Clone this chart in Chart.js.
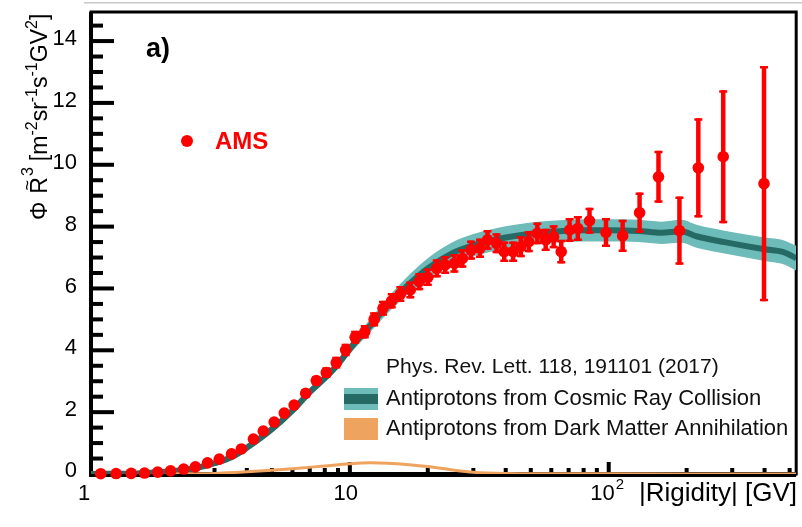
<!DOCTYPE html>
<html>
<head>
<meta charset="utf-8">
<script src="https://cdn.jsdelivr.net/npm/chart.js@4.4.1/dist/chart.umd.min.js"></script>
<style>
html,body{margin:0;padding:0;background:#fff;}
#wrap{width:802px;height:527px;position:relative;}
</style>
</head>
<body>
<div id="wrap"><canvas id="c" width="802" height="527"></canvas></div>
<script>
// ---- AMS data points ----
const rigidity = [1.09, 1.25, 1.43, 1.61, 1.81, 2.03, 2.28, 2.53, 2.82, 3.13, 3.49, 3.81, 4.24, 4.63, 5.10, 5.58, 6.09, 6.75, 7.42, 8.11, 8.86, 9.63, 10.48, 11.42, 12.41, 13.43, 14.51, 15.67, 17.12, 18.54, 20.01, 21.67, 23.34, 25.34, 27.2, 29.38, 31.82, 34.03, 36.87, 39.48, 42.73, 45.76, 49.12, 53.02, 57.09, 61.27, 65.54, 70.61, 76.0, 84.3, 97.6, 113.2, 131.6, 155.7, 187.6, 221.9, 276.9, 398];
const flux = [0.01, 0.015, 0.02, 0.03, 0.06, 0.1, 0.16, 0.23, 0.36, 0.48, 0.65, 0.81, 1.13, 1.39, 1.68, 1.97, 2.23, 2.61, 3.02, 3.28, 3.6, 4.01, 4.42, 4.6, 5.0, 5.36, 5.6, 5.82, 5.95, 6.22, 6.36, 6.65, 6.76, 6.81, 6.97, 7.24, 7.3, 7.57, 7.46, 7.19, 7.19, 7.35, 7.51, 7.78, 7.57, 7.67, 7.19, 7.89, 7.94, 8.19, 7.81, 7.7, 8.45, 9.61, 7.87, 9.9, 10.26, 9.39];
const fluxErr = [0.005, 0.008, 0.01, 0.012, 0.015, 0.02, 0.025, 0.03, 0.035, 0.04, 0.05, 0.06, 0.07, 0.08, 0.09, 0.1, 0.11, 0.13, 0.15, 0.17, 0.19, 0.2, 0.21, 0.22, 0.23, 0.24, 0.25, 0.26, 0.27, 0.28, 0.28, 0.29, 0.29, 0.3, 0.3, 0.31, 0.31, 0.32, 0.32, 0.33, 0.33, 0.34, 0.34, 0.35, 0.36, 0.37, 0.38, 0.39, 0.4, 0.42, 0.47, 0.52, 0.65, 0.84, 1.1, 1.6, 2.15, 3.8];

// ---- Cosmic ray collision model band ----
const bandR = [1, 1.5, 2, 2.5, 3, 3.5, 4, 5, 6, 7, 8, 9, 10, 12, 14, 17, 20, 25, 30, 35, 40, 50, 60, 80, 100, 130, 160, 190, 220, 280, 400, 470, 530];
const bandMid = [0.0, 0.02, 0.08, 0.18, 0.35, 0.55, 0.85, 1.45, 2.05, 2.65, 3.1, 3.55, 4.05, 4.8, 5.45, 6.15, 6.65, 7.15, 7.4, 7.55, 7.65, 7.77, 7.83, 7.88, 7.88, 7.86, 7.8, 7.85, 7.68, 7.5, 7.27, 7.18, 6.98];
const bandHigh = [0.01, 0.03, 0.095, 0.2, 0.38, 0.59, 0.9, 1.52, 2.14, 2.76, 3.23, 3.7, 4.22, 5.01, 5.7, 6.45, 6.98, 7.5, 7.76, 7.91, 8.01, 8.13, 8.19, 8.24, 8.24, 8.22, 8.16, 8.22, 8.05, 7.87, 7.65, 7.57, 7.38];
const bandLow = [0, 0.01, 0.065, 0.16, 0.32, 0.51, 0.8, 1.38, 1.96, 2.54, 2.97, 3.4, 3.88, 4.59, 5.2, 5.85, 6.32, 6.8, 7.04, 7.19, 7.29, 7.41, 7.47, 7.52, 7.52, 7.5, 7.44, 7.48, 7.31, 7.13, 6.89, 6.79, 6.58];

// ---- Dark matter annihilation contribution ----
const dmR = [2, 3, 4, 5, 6, 8, 10, 12, 14, 17, 20, 25, 30, 40, 60, 100, 200, 530];
const dmFlux = [0.0, 0.02, 0.07, 0.12, 0.17, 0.26, 0.33, 0.36, 0.35, 0.3, 0.24, 0.13, 0.06, 0.02, 0.01, 0.005, 0.002, 0.0];

// ---- Axis ticks ----
const yMajorTicks = [0, 2, 4, 6, 8, 10, 12, 14];
const yTickLabels = ['0', '2', '4', '6', '8', '10', '12', '14'];
const yMinorTicks = [0.5, 1, 1.5, 2.5, 3, 3.5, 4.5, 5, 5.5, 6.5, 7, 7.5, 8.5, 9, 9.5, 10.5, 11, 11.5, 12.5, 13, 13.5, 14.5];
const xMajorTicks = [10, 100];
const xMinorTicks = [2, 3, 4, 5, 6, 7, 8, 9, 20, 30, 40, 50, 60, 70, 80, 90, 200, 300, 400, 500];
const xTickValues = [1, 10, 100];
const xTickBase = ['1', '10', '10'];
const xTickSup = ['', '', '2'];

const X_MIN = 1, X_MAX = 530, Y_MIN = 0, Y_MAX = 14.94;

const pts = (xs, ys) => xs.map((v, i) => ({x: v, y: ys[i]}));

const RED = '#ff0000';
const TEAL_L = '#6ebcb9';
const TEAL_D = '#266a66';
const ORANGE = '#eea35e';
const FONT = '"Liberation Sans", Arial, Helvetica, sans-serif';

const framePlugin = {
  id: 'frame',
  beforeDatasetsDraw(chart) {
    const {ctx, chartArea: a, scales: {x, y}} = chart;
    ctx.save();
    // faint line above the frame
    ctx.fillStyle = '#c8c8c8';
    ctx.fillRect(84, 2, 718, 1.5);
    ctx.fillStyle = '#000';
    yMajorTicks.forEach(v => { const p = y.getPixelForValue(v); ctx.fillRect(a.left, p - 2, 23, 4); });
    yMinorTicks.forEach(v => { const p = y.getPixelForValue(v); ctx.fillRect(a.left, p - 2, 12, 4); });
    xMajorTicks.forEach(v => { const p = x.getPixelForValue(v); ctx.fillRect(p - 2, a.bottom - 12, 4, 12); });
    xMinorTicks.forEach(v => { const p = x.getPixelForValue(v); ctx.fillRect(p - 2, a.bottom - 6, 4, 6); });
    ctx.strokeStyle = '#000';
    ctx.lineWidth = 3;
    ctx.strokeRect(a.left, a.top, a.right - a.left, a.bottom - a.top);
    ctx.fillRect(a.left - 2, a.top, 4, a.bottom - a.top + 2);
    ctx.fillRect(a.left - 2, a.bottom - 2, a.right - a.left + 2, 5);
    ctx.restore();
  },
  afterDatasetsDraw(chart) {
    const {ctx, scales: {x, y}} = chart;
    ctx.save();
    ctx.strokeStyle = RED;
    rigidity.forEach((r, i) => {
      const px = x.getPixelForValue(r);
      const top = y.getPixelForValue(flux[i] + fluxErr[i]);
      const bot = y.getPixelForValue(flux[i] - fluxErr[i]);
      if (bot - top > 8) {
        ctx.lineWidth = 4.5;
        ctx.beginPath(); ctx.moveTo(px, top); ctx.lineTo(px, bot); ctx.stroke();
        ctx.lineWidth = 2.5;
        ctx.beginPath(); ctx.moveTo(px - 4, top + 1.2); ctx.lineTo(px + 4, top + 1.2);
        ctx.moveTo(px - 4, bot - 1.2); ctx.lineTo(px + 4, bot - 1.2); ctx.stroke();
      }
    });
    ctx.restore();
  },
  afterDraw(chart) {
    const {ctx, scales: {x, y}} = chart;
    ctx.save();
    ctx.fillStyle = '#000';
    // y tick labels
    ctx.font = '22px ' + FONT;
    ctx.textAlign = 'right';
    ctx.textBaseline = 'middle';
    yMajorTicks.forEach((v, i) => {
      const p = y.getPixelForValue(v);
      ctx.fillText(yTickLabels[i], 77, p - (v === 0 ? 3 : 2));
    });
    // x tick labels
    ctx.textAlign = 'left';
    xTickValues.forEach((v, i) => {
      const p = x.getPixelForValue(v);
      ctx.font = '22px ' + FONT;
      const wb = ctx.measureText(xTickBase[i]).width;
      ctx.font = '15px ' + FONT;
      const ws = xTickSup[i] ? ctx.measureText(xTickSup[i]).width : 0;
      const shift = i === 0 ? -7 : (i === 1 ? -4 : -2);
      const x0 = p + shift - (wb + ws) / 2;
      ctx.font = '22px ' + FONT;
      ctx.fillText(xTickBase[i], x0, 494);
      if (xTickSup[i]) { ctx.font = '15px ' + FONT; ctx.fillText(xTickSup[i], x0 + wb + 1, 485); }
    });
    // x title
    ctx.font = '26px ' + FONT;
    ctx.textAlign = 'right';
    ctx.fillText('|Rigidity| [GV]', 797, 494);
    // y title (rotated)
    ctx.save();
    ctx.translate(47, 220);
    ctx.rotate(-Math.PI / 2);
    ctx.textAlign = 'left';
    ctx.textBaseline = 'alphabetic';
    let cx = 0;
    const seg = (t, size, dy) => { ctx.font = size + 'px ' + FONT; ctx.fillText(t, cx, dy); cx += ctx.measureText(t).width; };
    seg('\u03A6', 23, 0);
    cx += 8;
    const rStart = cx;
    seg('R', 23, 0);
    ctx.font = '18px ' + FONT;
    const tw = ctx.measureText('~').width;
    ctx.fillText('~', rStart + (cx - rStart - tw) / 2, -14);
    cx += 1;
    seg('3', 16, -14);
    cx += 6;
    seg('[m', 23, 0);
    seg('-2', 16, -10);
    seg('sr', 23, 0);
    seg('-1', 16, -10);
    seg('s', 23, 0);
    seg('-1', 16, -10);
    seg('GV', 23, 0);
    seg('2', 16, -10);
    seg(']', 23, 0);
    ctx.restore();
    // panel label
    ctx.font = 'bold 27px ' + FONT;
    ctx.textAlign = 'left';
    ctx.textBaseline = 'alphabetic';
    ctx.fillText('a)', 146, 57);
    // AMS legend
    ctx.fillStyle = RED;
    ctx.beginPath(); ctx.arc(187, 141, 6, 0, Math.PI * 2); ctx.fill();
    ctx.font = 'bold 24px ' + FONT;
    ctx.textBaseline = 'middle';
    ctx.fillText('AMS', 215, 142);
    // model legend
    ctx.fillStyle = '#111';
    ctx.font = '21px ' + FONT;
    ctx.fillText('Phys. Rev. Lett. 118, 191101 (2017)', 386, 367);
    ctx.font = '22px ' + FONT;
    ctx.fillText('Antiprotons from Cosmic Ray Collision', 386, 399);
    ctx.fillText('Antiprotons from Dark Matter Annihilation', 386, 429);
    ctx.fillStyle = TEAL_L; ctx.fillRect(344, 388, 34, 22);
    ctx.fillStyle = TEAL_D; ctx.fillRect(344, 394, 34, 10);
    ctx.fillStyle = ORANGE; ctx.fillRect(344, 418, 34, 22);
    ctx.restore();
  }
};

new Chart(document.getElementById('c'), {
  type: 'line',
  data: {
    datasets: [
      { data: pts(rigidity, flux), showLine: false, pointRadius: 5.8, pointBackgroundColor: RED, pointBorderWidth: 0, borderColor: RED, clip: false },
      { data: pts(dmR, dmFlux), borderWidth: 3, borderColor: ORANGE, fill: false, pointRadius: 0, cubicInterpolationMode: 'monotone' },
      { data: pts(bandR, bandMid), borderWidth: 6, borderColor: TEAL_D, fill: false, pointRadius: 0, cubicInterpolationMode: 'monotone' },
      { data: pts(bandR, bandHigh), borderWidth: 0, borderColor: 'rgba(0,0,0,0)', backgroundColor: TEAL_L, fill: '+1', pointRadius: 0, cubicInterpolationMode: 'monotone' },
      { data: pts(bandR, bandLow), borderWidth: 0, borderColor: 'rgba(0,0,0,0)', backgroundColor: TEAL_L, fill: false, pointRadius: 0, cubicInterpolationMode: 'monotone' }
    ]
  },
  options: {
    responsive: false,
    animation: false,
    events: [],
    layout: { padding: { left: 91, top: 12, right: 4, bottom: 53 } },
    plugins: { legend: { display: false }, tooltip: { enabled: false } },
    scales: {
      x: { type: 'logarithmic', min: X_MIN, max: X_MAX, display: false },
      y: { type: 'linear', min: Y_MIN, max: Y_MAX, display: false }
    }
  },
  plugins: [framePlugin]
});
</script>
</body>
</html>
